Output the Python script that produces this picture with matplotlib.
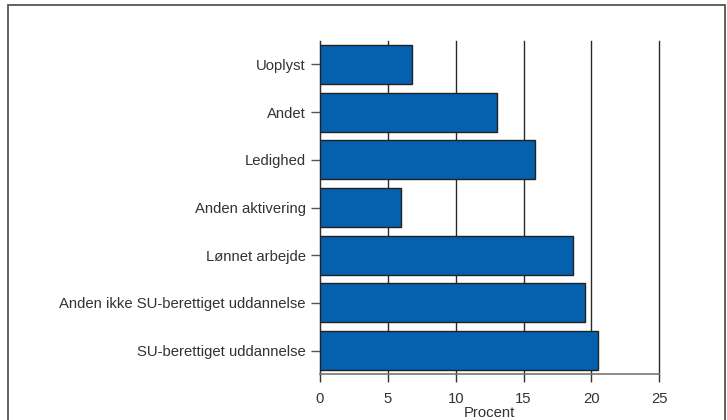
import matplotlib
matplotlib.use("Agg")
import matplotlib.pyplot as plt
from matplotlib.patches import Rectangle

categories = [
    "SU-berettiget uddannelse",
    "Anden ikke SU-berettiget uddannelse",
    "Lønnet arbejde",
    "Anden aktivering",
    "Ledighed",
    "Andet",
    "Uoplyst",
]
values = [20.45, 19.5, 18.65, 5.95, 15.85, 13.05, 6.75]
xticks = [0, 5, 10, 15, 20, 25]

plt.rcParams["font.family"] = ["Liberation Sans", "DejaVu Sans"]

fig = plt.figure(figsize=(7.27, 4.20), dpi=100)
ax = fig.add_axes([0.4402, 0.1095, 0.4667, 0.7929])

ypos = list(range(len(categories)))
ax.barh(ypos, values, height=0.82, color="#0560ae", edgecolor="#222222",
        linewidth=1.0, zorder=3)

ax.set_xlim(0, 25)
ax.set_ylim(-0.49, len(categories) - 0.51)
ax.set_xticks(xticks)
ax.set_yticks(ypos)
ax.set_yticklabels(categories)
ax.grid(axis="x", color="#2a2a2a", linewidth=1.0, zorder=1)
ax.set_axisbelow(True)
for gl in ax.xaxis.get_gridlines():
    gl.set_clip_on(False)

for s in ["top", "right"]:
    ax.spines[s].set_visible(False)
ax.spines["left"].set_color("#333333")
ax.spines["bottom"].set_color("#777777")
ax.spines["bottom"].set_linewidth(1.2)

ax.tick_params(axis="x", length=5.8, width=1.0, color="#333333",
               labelsize=10.7, labelcolor="#333333", pad=7.3)
ax.tick_params(axis="y", length=6.5, width=1.0, color="#555555",
               labelsize=10.7, labelcolor="#333333", pad=3.6)
ax.set_xlabel("Procent", fontsize=10.7, color="#333333", labelpad=-0.5)

# outer frame
fig.patches.append(Rectangle((8 / 727, -0.05), 717 / 727, 1.05 - 5 / 420,
                             transform=fig.transFigure, fill=False,
                             edgecolor="#555555", linewidth=1.3))

fig.savefig("out.png", dpi=100)
